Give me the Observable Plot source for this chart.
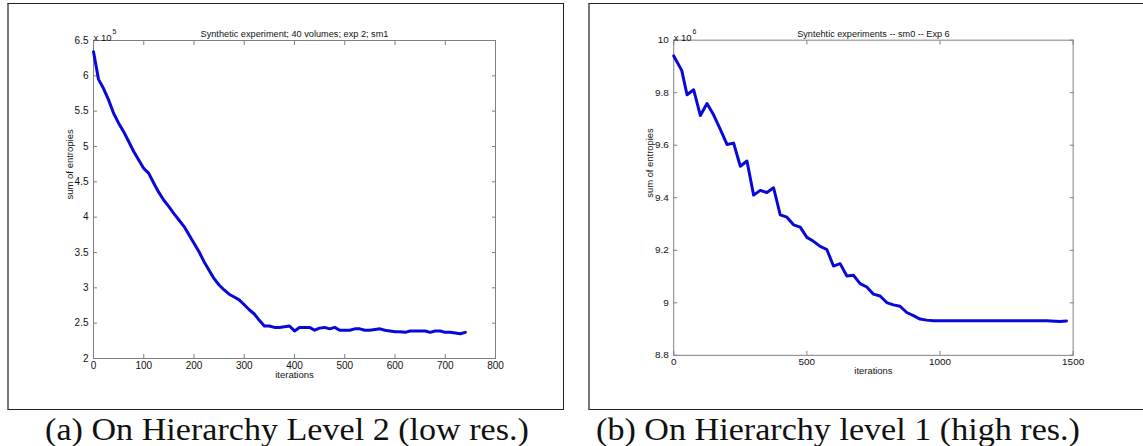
<!DOCTYPE html>
<html><head><meta charset="utf-8">
<script src="https://cdn.jsdelivr.net/npm/d3@7"></script>
<script src="https://cdn.jsdelivr.net/npm/@observablehq/plot@0.6"></script>
<style>
html,body{margin:0;padding:0;background:#fff;width:1143px;height:446px;overflow:hidden;}
#wrap{position:relative;width:1143px;height:446px;overflow:hidden;}
.box{position:absolute;top:3px;height:407px;box-sizing:border-box;border:1px solid #222;border-left:2px solid #777;}
#boxA{left:7px;width:557px;}
#boxB{left:588px;width:570px;}
.svgwrap{position:absolute;top:3px;}
#plotA{left:7px;}
#plotB{left:588px;}
.cap{position:absolute;top:414px;font-family:"Liberation Serif","Times New Roman",Times,serif;font-size:31px;line-height:31px;white-space:nowrap;color:#111;transform:translateX(-50%) scaleX(1.1);transform-origin:center;}
</style>
</head><body>
<div id="wrap">
  <div class="box" id="boxA"></div>
  <div class="box" id="boxB"></div>
  <div class="svgwrap" id="plotA"></div>
  <div class="svgwrap" id="plotB"></div>
  <div class="cap" id="capA" style="left:287px">(a) On Hierarchy Level 2 (low res.)</div>
  <div class="cap" id="capB" style="left:838px">(b) On Hierarchy level 1 (high res.)</div>
</div>
<script>
// ---- Panel (a) data: sum of entropies (x 10^5) vs iterations ----
const aIterations = [0,10,20,30,40,50,60,70,80,90,100,110,120,130,140,150,160,170,180,190,200,210,220,230,240,250,260,270,280,290,300,310,320,330,340,350,360,370,380,390,400,410,420,430,440,450,460,470,480,490,500,510,520,530,540,550,560,570,580,590,600,610,620,630,640,650,660,670,680,690,700,710,720,730,740];
const aEntropy = [6.34,5.95,5.82,5.66,5.47,5.33,5.21,5.07,4.93,4.81,4.69,4.62,4.48,4.35,4.24,4.15,4.05,3.96,3.87,3.75,3.63,3.51,3.37,3.25,3.13,3.04,2.97,2.91,2.87,2.83,2.76,2.69,2.63,2.54,2.46,2.46,2.44,2.44,2.45,2.46,2.39,2.44,2.44,2.44,2.40,2.43,2.44,2.42,2.44,2.40,2.40,2.40,2.42,2.42,2.40,2.40,2.41,2.42,2.40,2.39,2.38,2.38,2.37,2.39,2.39,2.39,2.39,2.37,2.39,2.39,2.37,2.37,2.36,2.35,2.37];
const aTitle = "Synthetic experiment; 40 volumes; exp 2; sm1";
const aExponent = "5";
const aXTicks = [0,100,200,300,400,500,600,700,800];
const aYTicks = [2,2.5,3,3.5,4,4.5,5,5.5,6,6.5];

// ---- Panel (b) data: sum of entropies (x 10^6) vs iterations ----
const bIterations = [0,30,50,75,100,125,150,175,200,225,250,275,300,325,350,375,400,425,450,475,500,525,550,575,600,625,650,675,700,725,750,775,800,825,850,875,900,925,950,975,1000,1100,1200,1300,1400,1450,1475];
const bEntropy = [9.94,9.885,9.792,9.811,9.713,9.759,9.715,9.66,9.603,9.608,9.52,9.54,9.41,9.428,9.42,9.438,9.335,9.326,9.297,9.288,9.249,9.234,9.215,9.203,9.14,9.149,9.102,9.105,9.073,9.06,9.033,9.026,9.001,8.992,8.987,8.963,8.951,8.938,8.934,8.932,8.932,8.932,8.932,8.932,8.932,8.929,8.931];
const bTitle = "Syntehtic experiments -- sm0 -- Exp 6";
const bExponent = "6";
const bXTicks = [0,500,1000,1500];
const bYTicks = [8.8,9,9.2,9.4,9.6,9.8,10];

const xLabel = "iterations";
const yLabel = "sum of entropies";

const FONT = "'Liberation Sans', Arial, sans-serif";
const AXIS = "#808080";
const LINE = "#0808d8";

function panel({iters, vals, title, exponent, xTicks, yTicks, xDomain, yDomain, width, marginRight}) {
  const data = iters.map((it, i) => ({it, v: vals[i]}));
  const fmt = d3.format("~g");
  return Plot.plot({
    width, height: 406,
    marginLeft: 86, marginRight, marginTop: 37, marginBottom: 51,
    style: {fontFamily: FONT, fontSize: "10px", color: "#111", background: "transparent", overflow: "visible"},
    x: {domain: xDomain, ticks: xTicks},
    y: {domain: yDomain, ticks: yTicks},
    marks: [
      Plot.frame({stroke: AXIS}),
      Plot.axisX(xTicks, {anchor: "bottom", tickSize: -4, tickPadding: 7, stroke: AXIS, tickFormat: fmt, label: null}),
      Plot.axisX(xTicks, {anchor: "top", tickSize: -4, stroke: AXIS, tickFormat: () => "", label: null}),
      Plot.axisY(yTicks, {anchor: "left", tickSize: -4, tickPadding: 9, stroke: AXIS, tickFormat: fmt, label: null}),
      Plot.axisY(yTicks, {anchor: "right", tickSize: -4, stroke: AXIS, tickFormat: () => "", label: null}),
      Plot.line(data, {x: "it", y: "v", stroke: LINE, strokeWidth: 3, strokeLinejoin: "round"}),
      Plot.text([title], {frameAnchor: "top", dy: -10, text: d => d, fontSize: 9.2}),
      Plot.text([xLabel], {frameAnchor: "bottom", dy: 19, text: d => d, fontSize: 9.5}),
      Plot.text([yLabel], {frameAnchor: "left", dx: -24, rotate: -90, text: d => d, fontSize: 9.5}),
      Plot.text(["x 10"], {frameAnchor: "top-left", textAnchor: "start", dy: -6, text: d => d, fontSize: 9.5}),
      Plot.text([exponent], {frameAnchor: "top-left", textAnchor: "start", dx: 19, dy: -11, text: d => d, fontSize: 7})
    ]
  });
}

document.getElementById("plotA").appendChild(panel({
  iters: aIterations, vals: aEntropy, title: aTitle, exponent: aExponent,
  xTicks: aXTicks, yTicks: aYTicks, xDomain: [0, 800], yDomain: [2, 6.5],
  width: 556, marginRight: 68
}));
document.getElementById("plotB").appendChild(panel({
  iters: bIterations, vals: bEntropy, title: bTitle, exponent: bExponent,
  xTicks: bXTicks, yTicks: bYTicks, xDomain: [0, 1500], yDomain: [8.8, 10],
  width: 560, marginRight: 71
}));
</script>
</body></html>
